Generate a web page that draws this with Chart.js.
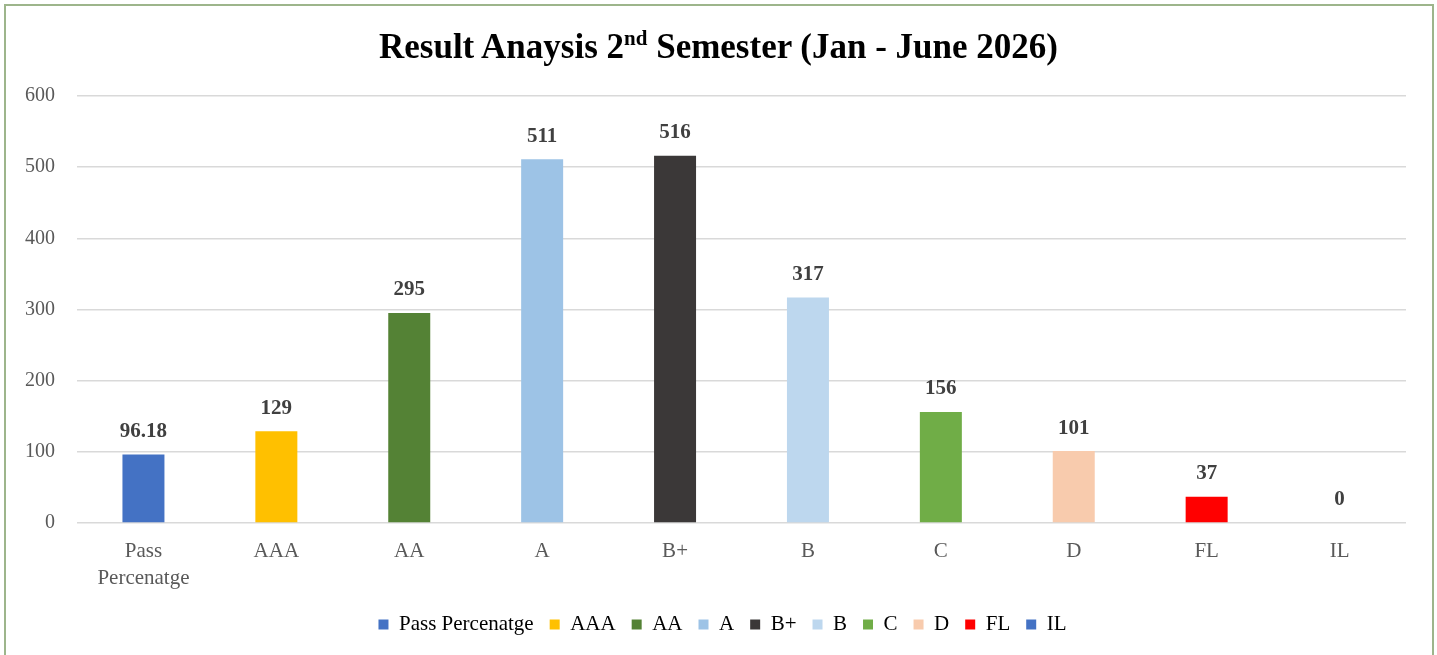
<!DOCTYPE html>
<html>
<head>
<meta charset="utf-8">
<title>Result Anaysis 2nd Semester</title>
<script src="https://cdn.jsdelivr.net/npm/chart.js@4/dist/chart.umd.min.js"></script>
<style>
    html, body { margin: 0; padding: 0; background: #fff; }
    #wrap { position: relative; width: 1437px; height: 655px; overflow: hidden; }
    #frame { position: absolute; left: 4px; top: 4px; width: 1426px; height: 700px; border: 2px solid #9db58b; }
    #title {
        position: absolute; left: 0; top: 28px; width: 1437px; height: 38px; line-height: 38px;
        text-align: center; font-family: "Liberation Serif", "Times New Roman", serif;
        font-weight: bold; font-size: 35px; color: #000;
    }
    #title sup { font-size: 21px; line-height: 0; vertical-align: 13px; }
    #chart { position: absolute; left: 0; top: 0; }
</style>
</head>
<body>
<div id="wrap">
    <div id="frame"></div>
    <canvas id="chart" width="1437" height="655"></canvas>
    <div id="title">Result Anaysis 2<sup>nd</sup> Semester (Jan - June 2026)</div>
</div>
<script>
// ---- data ----
const CATEGORIAS = ["Pass Percenatge", "AAA", "AA", "A", "B+", "B", "C", "D", "FL", "IL"];
const VALORES = [96.18, 129, 295, 511, 516, 317, 156, 101, 37, 0];
const CORES = ["#4472C4", "#FFC000", "#548235", "#9DC3E6", "#3B3838", "#BDD7EE", "#70AD47", "#F8CBAD", "#FF0000", "#4472C4"];
const Y_TICKS = [0, 100, 200, 300, 400, 500, 600];

const FONTE = '"Liberation Serif", "Times New Roman", serif';

// quebra "Pass Percenatge" em duas linhas como no original
function quebraLabel(txt) { return txt.includes(' ') ? txt.split(' ') : txt; }

// rótulos de valor acima das barras
const rotulosPlugin = {
    id: 'rotulos',
    afterDatasetsDraw(chart) {
        const ctx = chart.ctx;
        const meta = chart.getDatasetMeta(0);
        ctx.save();
        ctx.font = 'bold 21px ' + FONTE;
        ctx.fillStyle = '#404040';
        ctx.textAlign = 'center';
        ctx.textBaseline = 'middle';
        meta.data.forEach((bar, i) => {
            ctx.fillText(String(VALORES[i]), bar.x, bar.y - 23);
        });
        ctx.restore();
    }
};

// centraliza a legenda na página (e não só na área do layout)
const legendaShift = {
    id: 'legendaShift',
    afterLayout(chart) {
        if (chart.legend) { chart.legend.left += 18; chart.legend.right += 18; }
    }
};

const ctx = document.getElementById('chart').getContext('2d');
new Chart(ctx, {
    type: 'bar',
    data: {
        labels: CATEGORIAS.map(quebraLabel),
        datasets: [{
            label: 'Result',
            data: VALORES,
            backgroundColor: CORES,
            borderWidth: 0,
            barPercentage: 0.395,
            categoryPercentage: 0.8
        }]
    },
    options: {
        responsive: false,
        animation: false,
        layout: { padding: { top: 96, left: 3, right: 31, bottom: 10 } },
        plugins: {
            title: { display: false },
            tooltip: { enabled: false },
            legend: {
                position: 'bottom',
                onClick: () => {},
                labels: {
                    font: { family: FONTE, size: 21 },
                    color: '#595959',
                    boxWidth: 10,
                    boxHeight: 10,
                    padding: 16,
                    generateLabels: () => CATEGORIAS.map((c, i) => ({
                        text: c, fillStyle: CORES[i], strokeStyle: CORES[i], lineWidth: 0, hidden: false, index: i
                    }))
                }
            }
        },
        scales: {
            x: {
                grid: { display: false },
                border: { display: false },
                ticks: { font: { family: FONTE, size: 21, lineHeight: 1.3 }, color: '#595959', padding: 7, maxRotation: 0, autoSkip: false },
                afterFit: (scale) => { scale.height = 75; }
            },
            y: {
                min: 0, max: 600,
                afterBuildTicks: (scale) => { scale.ticks = Y_TICKS.map(v => ({ value: v })); },
                grid: { color: '#d9d9d9', lineWidth: 1.5, drawTicks: false },
                border: { display: false },
                ticks: { font: { family: FONTE, size: 20 }, color: '#595959', padding: 22 }
            }
        }
    },
    plugins: [rotulosPlugin, legendaShift]
});
</script>
</body>
</html>
